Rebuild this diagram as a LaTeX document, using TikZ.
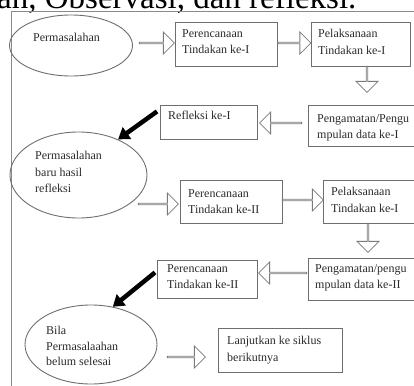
\documentclass[tikz,border=0pt]{standalone}
\usepackage{fontspec}
\setmainfont{Liberation Serif}
\usetikzlibrary{shapes.geometric,shapes.arrows,arrows.meta,calc}
\definecolor{boxgray}{HTML}{6E6E6E}
\definecolor{arrgray}{HTML}{7A7A7A}
\definecolor{framegray}{HTML}{8A8A8A}
\definecolor{txtcol}{HTML}{2A2A2A}
\begin{document}
\begin{tikzpicture}[x=1pt,y=-1pt,
  box/.style={draw=boxgray, line width=0.9pt, rectangle, inner sep=0pt, anchor=north west},
  oval/.style={draw=boxgray, line width=0.9pt, ellipse, inner sep=0pt},
  txt/.style={anchor=north west, align=left, inner sep=0pt, font=\fontsize{12}{16.5}\selectfont, text=txtcol},
  blockarrow/.style={draw=arrgray, line width=0.8pt, single arrow, single arrow head extend=5.5pt,
    minimum width=22pt, inner sep=0pt, single arrow head indent=0pt},
  bigarrow/.style={line width=4.5pt, black, -{Triangle[width=14pt,length=11pt]}}
]
\useasboundingbox (0,0) rectangle (414,385);
\clip (0,0) rectangle (414,385);

% header text (cut off at the top)
\node[anchor=base west, inner sep=0pt, font=\fontsize{33}{33}\selectfont, text=black] (hdr) at (-3,9) {an, Observasi, dan refleksi.};

% frame
\draw[framegray, line width=0.8pt] (416,11) -- (11,11) -- (11,387);

% shapes
\node[oval, minimum width=123pt, minimum height=61pt] (e1) at (71,45.5) {};
\node[box, minimum width=102pt, minimum height=44pt] (b1) at (175,22) {};
\node[box, minimum width=99pt, minimum height=44pt] (b2) at (311,22) {};
\node[box, minimum width=112pt, minimum height=41pt] (b3) at (308,105) {};
\node[box, minimum width=97pt, minimum height=34pt] (b4) at (160,105) {};
\node[oval, minimum width=137pt, minimum height=86pt] (e2) at (78.5,175) {};
\node[box, minimum width=102pt, minimum height=43pt] (b5) at (180,180) {};
\node[box, minimum width=97pt, minimum height=43pt] (b6) at (323,180) {};
\node[box, minimum width=100pt, minimum height=38pt] (b7) at (157,260) {};
\node[box, minimum width=112pt, minimum height=42pt] (b8) at (308,258) {};
\node[oval, minimum width=132pt, minimum height=79pt] (e3) at (91,344.5) {};
\node[box, minimum width=124pt, minimum height=44pt] (b9) at (218,328) {};

% texts (positions are the top of the first line)
\node[txt] (t1) at (33,33) {Permasalahan};
\node[txt] (t2) at (182,29) {Perencanaan\\Tindakan ke-I};
\node[txt] (t3) at (318,29) {Pelaksanaan\\Tindakan ke-I};
\node[txt] (t4) at (317,114) {Pengamatan/Pengu\\mpulan data ke-I};
\node[txt] (t5) at (168,111) {Refleksi ke-I};
\node[txt] (t6) at (35,151) {Permasalahan\\baru hasil\\refleksi};
\node[txt] (t7) at (188,189) {Perencanaan\\Tindakan ke-II};
\node[txt] (t8) at (331,187) {Pelaksanaan\\Tindakan ke-I};
\node[txt] (t9) at (167,264) {Perencanaan\\Tindakan ke-II};
\node[txt] (t10) at (315,264) {Pengamatan/pengu\\mpulan data ke-II};
\node[txt, font=\fontsize{12}{15.5}\selectfont] (t11) at (46,326) {Bila\\Permasalaahan\\belum selesai};
\node[txt] (t12) at (227,336) {Lanjutkan ke siklus\\berikutnya};

% hollow block arrows
\node[blockarrow, minimum height=35pt] (a1) at (156.5,43) {};
\node[blockarrow, minimum height=33pt] (a2) at (294,43) {};
\node[blockarrow, minimum height=26pt, shape border rotate=270] (a3) at (367,79) {};
\node[blockarrow, minimum height=42pt, shape border rotate=180] (a4) at (281,123) {};
\node[blockarrow, minimum height=40pt] (a5) at (158,204) {};
\node[blockarrow, minimum height=41pt] (a6) at (302.5,200) {};
\node[blockarrow, minimum height=29pt, shape border rotate=270] (a7) at (368,237.5) {};
\node[blockarrow, minimum height=48pt, shape border rotate=180] (a8) at (283,273) {};
\node[blockarrow, minimum height=38pt] (a9) at (186,357) {};

% black arrows
\draw[bigarrow] ($(b4.west)+(-3,-11)$) -- (e2.42);
\draw[bigarrow] ($(b7.west)+(-2,-7)$) -- (e3.60);
\end{tikzpicture}
\end{document}
